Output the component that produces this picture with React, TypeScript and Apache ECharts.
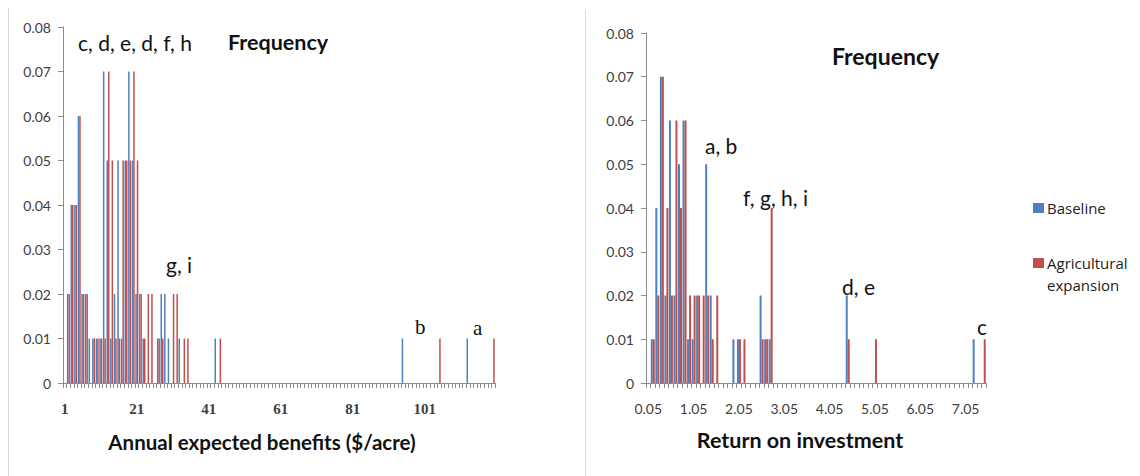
import React, { useEffect, useRef } from "react";
import * as echarts from "echarts";

// ---------- categories (histogram bins) ----------
const benefitBins: string[] = Array.from({ length: 120 }, (_, i) => String(i + 1));
const roiBins: string[] = Array.from({ length: 75 }, (_, i) => (0.05 + 0.1 * i).toFixed(2));

// ---------- frequencies: [bin, frequency] ----------
const benefitBaseline: [number, number][] = [
  [2, 0.02], [3, 0.04], [4, 0.04], [5, 0.06], [6, 0.02], [7, 0.02], [8, 0.01], [9, 0.01],
  [10, 0.01], [11, 0.01], [12, 0.07], [13, 0.05], [14, 0.01], [15, 0.02], [16, 0.05],
  [17, 0.01], [18, 0.05], [19, 0.07], [20, 0.05], [21, 0.02], [22, 0.02], [23, 0.01],
  [27, 0.01], [28, 0.02], [29, 0.02], [30, 0.01], [33, 0.01], [43, 0.01], [95, 0.01], [113, 0.01],
];
const benefitAgri: [number, number][] = [
  [2, 0.02], [3, 0.04], [4, 0.04], [5, 0.06], [6, 0.02], [7, 0.02], [9, 0.01], [10, 0.01],
  [11, 0.01], [12, 0.01], [13, 0.07], [14, 0.05], [15, 0.01], [16, 0.01], [17, 0.05],
  [18, 0.05], [19, 0.05], [20, 0.07], [21, 0.05], [22, 0.02], [23, 0.01], [24, 0.02],
  [25, 0.02], [27, 0.01], [28, 0.01], [31, 0.02], [32, 0.02], [34, 0.01], [35, 0.01],
  [44, 0.01], [105, 0.01], [120, 0.01],
];
const roiBaseline: [number, number][] = [
  [0.15, 0.01], [0.25, 0.04], [0.35, 0.07], [0.45, 0.02], [0.55, 0.06], [0.65, 0.02],
  [0.75, 0.05], [0.85, 0.06], [0.95, 0.01], [1.05, 0.01], [1.15, 0.02], [1.35, 0.05],
  [1.45, 0.02], [1.95, 0.01], [2.05, 0.01], [2.55, 0.02], [2.65, 0.01], [2.75, 0.01],
  [4.45, 0.02], [7.25, 0.01],
];
const roiAgri: [number, number][] = [
  [0.15, 0.01], [0.25, 0.02], [0.35, 0.07], [0.45, 0.04], [0.55, 0.02], [0.65, 0.06],
  [0.75, 0.04], [0.85, 0.06], [0.95, 0.02], [1.05, 0.02], [1.15, 0.02], [1.25, 0.02],
  [1.35, 0.02], [1.45, 0.01], [1.55, 0.02], [2.05, 0.01], [2.15, 0.01], [2.55, 0.01],
  [2.65, 0.01], [2.75, 0.04], [4.45, 0.01], [5.05, 0.01], [7.45, 0.01],
];

const seriesNames = ["Baseline", "Agricultural expansion"];
const colors = ["#4F81BD", "#C0504D"];

function expand(bins: string[], pairs: [number, number][], fmt: (v: number) => string): (number | null)[] {
  const out: (number | null)[] = bins.map(() => null);
  for (const [b, v] of pairs) {
    const idx = bins.indexOf(fmt(b));
    if (idx >= 0) out[idx] = v;
  }
  return out;
}

const axisGrey = "#8c8c8c";
const labelColor = "#404040";
const sans = "Lato, 'Open Sans', sans-serif";
const serif = "'Liberation Serif', serif";

function yAxisFor(gridIndex: number) {
  return {
    type: "value",
    gridIndex,
    min: 0,
    max: 0.08,
    interval: 0.01,
    axisLine: { show: true, lineStyle: { color: axisGrey } },
    axisTick: { show: true, length: 5, lineStyle: { color: axisGrey } },
    splitLine: { show: false },
    axisLabel: {
      margin: 12,
      color: labelColor,
      fontSize: 14,
      fontFamily: sans,
      formatter: (v: number) => (v === 0 ? "0" : v.toFixed(2)),
    },
  };
}

function xAxisFor(gridIndex: number, data: string[], interval: number, font: string, size: number, weight: string) {
  return {
    type: "category",
    gridIndex,
    data,
    boundaryGap: true,
    axisLine: { show: true, lineStyle: { color: axisGrey } },
    axisTick: { show: true, interval: 0, length: 5, lineStyle: { color: axisGrey } },
    splitLine: { show: false },
    axisLabel: { interval, margin: 18, color: labelColor, fontSize: size, fontFamily: font, fontWeight: weight },
  };
}

function txt(x: number, y: number, text: string, font: string, align = "left", fill = "#111") {
  return {
    type: "text",
    x,
    y,
    silent: true,
    style: { text, font, fill, align, verticalAlign: "middle" },
  };
}

export default function App() {
  const ref = useRef<HTMLDivElement>(null);
  useEffect(() => {
    if (!ref.current) return;
    const chart = echarts.init(ref.current, undefined, { renderer: "svg" });
    const fmtInt = (v: number) => String(v);
    const fmt2 = (v: number) => v.toFixed(2);
    const option = {
      animation: false,
      backgroundColor: "#ffffff",
      grid: [
        { left: 63, top: 27, width: 432, height: 356 },
        { left: 646, top: 33, width: 340, height: 350 },
      ],
      xAxis: [
        xAxisFor(0, benefitBins, 19, serif, 15, "bold"),
        xAxisFor(1, roiBins, 9, sans, 14, "normal"),
      ],
      yAxis: [yAxisFor(0), yAxisFor(1)],
      series: [
        { name: seriesNames[0], type: "bar", xAxisIndex: 0, yAxisIndex: 0, barWidth: 1.5, barGap: "0%", itemStyle: { color: colors[0] }, data: expand(benefitBins, benefitBaseline, fmtInt) },
        { name: seriesNames[1], type: "bar", xAxisIndex: 0, yAxisIndex: 0, barWidth: 1.5, barGap: "0%", itemStyle: { color: colors[1] }, data: expand(benefitBins, benefitAgri, fmtInt) },
        { name: seriesNames[0], type: "bar", xAxisIndex: 1, yAxisIndex: 1, barWidth: 2, barGap: "0%", itemStyle: { color: colors[0] }, data: expand(roiBins, roiBaseline, fmt2) },
        { name: seriesNames[1], type: "bar", xAxisIndex: 1, yAxisIndex: 1, barWidth: 2, barGap: "0%", itemStyle: { color: colors[1] }, data: expand(roiBins, roiAgri, fmt2) },
      ],
      graphic: [
        { type: "line", silent: true, shape: { x1: 8.5, y1: 8, x2: 8.5, y2: 476 }, style: { stroke: "#d9d9d9", lineWidth: 1 } },
        { type: "line", silent: true, shape: { x1: 585.5, y1: 10, x2: 585.5, y2: 476 }, style: { stroke: "#d9d9d9", lineWidth: 1 } },
        // left panel texts
        txt(78, 42, "c, d, e, d, f, h", `21px ${sans}`),
        txt(228, 42, "Frequency", `bold 21.5px ${sans}`),
        txt(166, 264, "g, i", `21px ${sans}`),
        txt(415, 327, "b", `21px ${serif}`),
        txt(473, 328, "a", `21px ${serif}`),
        txt(262, 442, "Annual expected benefits ($/acre)", `bold 20.5px ${sans}`, "center"),
        // right panel texts
        txt(832, 56, "Frequency", `bold 23px ${sans}`),
        txt(705, 145, "a, b", `21px ${sans}`),
        txt(743, 197, "f, g, h, i", `21px ${sans}`),
        txt(842, 286, "d, e", `21px ${sans}`),
        txt(977, 326, "c", `21px ${sans}`),
        txt(800, 440, "Return on investment", `bold 21.5px ${sans}`, "center"),
        // legend
        { type: "rect", silent: true, shape: { x: 1033, y: 203, width: 11, height: 10 }, style: { fill: colors[0] } },
        txt(1047, 208, "Baseline", `15px 'Open Sans', sans-serif`, "left", "#222"),
        { type: "rect", silent: true, shape: { x: 1033, y: 258, width: 11, height: 10 }, style: { fill: colors[1] } },
        txt(1047, 263, "Agricultural", `15px 'Open Sans', sans-serif`, "left", "#222"),
        txt(1047, 285, "expansion", `15px 'Open Sans', sans-serif`, "left", "#222"),
      ],
    };
    chart.setOption(option as any);
    return () => chart.dispose();
  }, []);
  return <div ref={ref} style={{ position: "fixed", left: 0, top: 0, width: 1140, height: 476 }} />;
}
